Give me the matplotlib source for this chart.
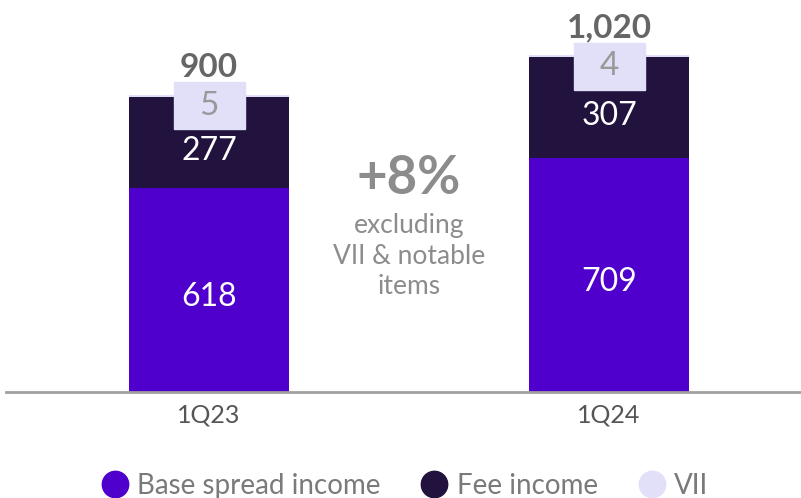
import matplotlib
matplotlib.use("Agg")
import matplotlib.pyplot as plt
from matplotlib.lines import Line2D
from matplotlib.patches import Rectangle
import numpy as np

plt.rcParams['font.family'] = ['Lato', 'DejaVu Sans']

categories = ["1Q23", "1Q24"]
base_spread = [618, 709]
fee_income = [277, 307]
vii = [5, 4]
totals = [900, 1020]
total_labels = ["900", "1,020"]
series_names = ["Base spread income", "Fee income", "VII"]

c_base = "#4F00CC"
c_fee = "#22123E"
c_vii = "#E1E0F8"

fig = plt.figure(figsize=(8.01, 4.98), dpi=100)
ax = fig.add_axes([6/801, 106/498, 795/801, 392/498])
x = np.arange(len(categories))
w = 0.4
base = np.array(base_spread)
fee = np.array(fee_income)
v = np.array(vii)
tot = np.array(totals)

ax.bar(x, base, w, color=c_base)
ax.bar(x, fee, w, bottom=base, color=c_fee)
ax.bar(x, v, w, bottom=base + fee, color=c_vii)

ax.set_xlim(-0.5075, 1.48)
ax.set_ylim(0, 1188)
for s in ["top", "right", "left"]:
    ax.spines[s].set_visible(False)
ax.spines["bottom"].set_color("#A0A0A0")
ax.spines["bottom"].set_linewidth(2)
ax.set_yticks([])
ax.set_xticks(x)
ax.set_xticklabels(categories, fontsize=18, color="#555555")
ax.tick_params(axis="x", length=0, pad=8)

for i in range(len(categories)):
    ax.annotate(str(base[i]), (x[i], base[i] / 2), xytext=(0, -5), textcoords="offset points",
                ha="center", va="center", color="white", fontsize=23)
    ax.annotate(str(fee[i]), (x[i], base[i] + fee[i] / 2), xytext=(0, -6), textcoords="offset points",
                ha="center", va="center", color="white", fontsize=23)
    top = base[i] + fee[i] + v[i]
    # VII label box
    bw = 0.1775
    bh = 142
    ax.add_patch(Rectangle((x[i] - bw / 2, top - 33 - bh / 2), bw, bh, color=c_vii, zorder=3))
    ax.annotate(str(v[i]), (x[i], top - 33), ha="center", va="center", color="#999999",
                fontsize=24, zorder=4)
    ax.annotate(total_labels[i], (x[i], tot[i]), xytext=(0, 20), textcoords="offset points",
                ha="center", va="center", color="#666666", fontsize=24, fontweight="bold")

ax.text(0.5, 648, "+8%", ha="center", va="center", color="#8C8C8C", fontsize=38, fontweight="bold")
ax.text(0.5, 412, "excluding\nVII & notable\nitems", ha="center", va="center", color="#8C8C8C",
        fontsize=19, linespacing=1.28)

fig.text(0.603, 1.0 + 12/498, "(in $ millions)", ha="center", va="baseline", color="#7A3CFF", fontsize=16)

handles = [Line2D([], [], marker="o", linestyle="none", markersize=19, markerfacecolor=c,
                  markeredgecolor=c) for c in (c_base, c_fee, c_vii)]
leg = fig.legend(handles, series_names, loc="center", bbox_to_anchor=(0.505, 12/498), ncol=3,
                 frameon=False, fontsize=20, handletextpad=0.3, columnspacing=1.45, handlelength=1.0)
for t in leg.get_texts():
    t.set_color("#7A7A7A")

fig.savefig("out.png", dpi=100)
